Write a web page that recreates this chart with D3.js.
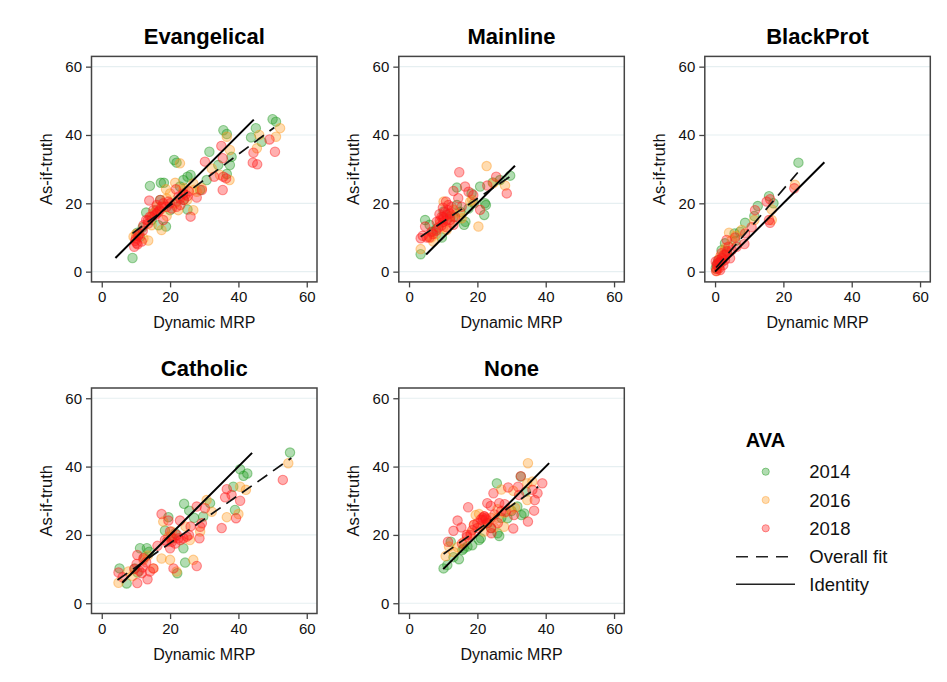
<!DOCTYPE html>
<html>
<head>
<meta charset="utf-8">
<script src="https://cdn.jsdelivr.net/npm/d3@7"></script>
<style>
  body { margin: 0; background: #fff; }
  svg { font-family: "Liberation Sans", Arial, sans-serif; }
</style>
</head>
<body>
<div id="chart"></div>
<script>
// Dynamic MRP vs as-if-truth, by religious group and AVA year
const years = ["2014", "2016", "2018"];
const yearColors = ["#1f9a1f", "#ff9a1f", "#ff1a1a"];
const ticks = [0, 20, 40, 60];

const evan2014 = [[9,4],[50,44.6],[51,43.9],[35.6,41.4],[36.6,40.3],[45.1,42],[43.7,39.3],[46.8,38],[31.5,35.1],[21.2,32.7],[21.9,31.9],[34.1,31.2],[38,33.6],[14.1,25.1],[17.3,26],[18.2,26],[23.9,26.8],[25.1,27.8],[26,28.3],[30.7,26.8],[36.6,28.6],[13,17.3],[16.6,13.6],[18.8,13.2],[25.1,18.2],[10.4,11.4],[28.8,23.9],[21.9,20.5],[17.1,21],[22.9,24.9],[20,18],[11.2,10.2],[14.6,15.1],[37.5,31.2],[24,21],[16,18],[12,13]];
const evan2016 = [[52.2,42],[51,39.5],[46.1,40],[36.6,39.5],[37.5,35.6],[45.4,36.1],[37.4,26.8],[32.2,30.2],[22.9,31.7],[21.5,26],[18.8,24.1],[26.8,25.8],[29.3,24.4],[19,21.4],[22.4,18],[26.8,18],[19,16.3],[17.5,12.2],[13.6,9.1],[12.2,9.7],[9.3,10.2],[23.9,23.9],[16.1,19],[34.6,28.3],[27.8,23.4],[21.5,20],[14.6,13.6],[20,22.9],[15,17],[18,19],[24,24.5],[27,24],[10,11],[25,21]];
const evan2018 = [[49.1,38.7],[50.7,35.1],[44.4,34.8],[44.2,31.9],[45.5,31.4],[35,36.8],[35.4,33.2],[30.2,32.2],[32.9,27.8],[35.6,27.8],[36.4,27.3],[35.4,23.9],[21.7,24.1],[13.9,20.8],[29.3,23.9],[27.8,21.7],[26,16.1],[23.9,22.9],[25.1,22.1],[22.9,21.4],[17.1,21],[16.1,19.5],[17.5,19],[15.1,18],[19,19],[20.5,18.5],[14.1,16.1],[13,15.1],[12.2,13.6],[13.6,14.1],[10,9.7],[10.7,10.4],[9.5,7.3],[11.7,8.8],[10.2,8.3],[21.9,19],[18,15.1],[20,20],[16.5,17.5],[24.5,22.5],[11,11],[12,12],[14.5,16],[15.5,16.5],[17,18],[18,20],[19.5,20.5],[22.5,22],[24,21],[23,19.5],[25.5,23.5],[16,17],[13.5,15],[9.8,9],[10.5,8]];
const evanFit = [[9,11.2],[50.5,42.2]];
const evanIdentity = [4, 44.5];

const main2014 = [[3.4,5.1],[4.7,15.1],[6,13.7],[14,24.6],[20.8,24.9],[24.5,26.1],[29.6,28.1],[22.2,20],[22.5,19.5],[22,16.6],[16.1,13.7],[16.5,14.6],[9.6,10],[18.3,22.9],[17.4,18.5],[10.1,17.6],[12,16.1],[7.1,11.7],[14,19.5],[26.6,26.8],[8,12.5],[13,16],[15,17.5],[19,20]];
const main2016 = [[22.7,30.9],[3.4,6.6],[20.3,13.2],[28.1,25.2],[24.7,25.9],[10.1,20.5],[7.1,8.8],[11,12.2],[15.4,15.6],[17.9,20.5],[13,18.1],[9.1,14.2],[5.7,10.3],[12,14.5],[8,11],[10,13],[12.5,16.5],[15,17],[6.5,10],[18.5,21]];
const main2018 = [[14.7,29.1],[25.5,27.8],[28.6,22.9],[22.9,25.2],[16.4,24.9],[13,23.6],[18.8,22.4],[20.8,18.1],[10.8,20.5],[9.9,18.7],[8.9,16.8],[11,16.6],[12,15.1],[8.1,14.6],[4.7,13.2],[3.4,9.8],[5.2,10],[6.6,11.7],[14.4,21.5],[10.1,15.6],[13,13.7],[8.6,12.9],[15.4,19],[17.4,23.4],[9.5,16],[11.5,18],[9,15],[10,16],[10.5,17.5],[11,15],[12,17],[11.5,19.5],[9.5,13.5],[8,12],[7,11],[13.5,16],[12.5,19],[6,10],[4,10.5],[10,14.5],[11,13]];
const mainFit = [[3.4,10.2],[29.8,28]];
const mainIdentity = [5, 31];

const black2014 = [[24.4,31.9],[15.8,22.1],[17.1,20],[12.5,19.2],[8.8,14.3],[11.5,16.3],[5.7,11.2],[1.9,6.3],[1,3.4],[2.9,8.3],[0.2,1],[7.3,11.7],[0.5,2],[1.5,2.5],[3.5,5.5],[6,9]];
const black2016 = [[23.4,25.4],[16.6,18.2],[4.1,11.4],[16.6,15.1],[11.5,15.1],[4.9,9.3],[0.5,0.2],[2.9,6.3],[7.8,12.2],[1.5,4.4],[1,1.5],[2,3.5],[3,7],[6,10.5]];
const black2018 = [[23.2,24.4],[15.1,20.5],[16.1,21.2],[11.7,18],[15.8,15.1],[16.1,14.3],[10.7,13],[8.8,11.2],[8.6,8.1],[5.9,10],[3.4,9.3],[3.9,7.3],[4.4,3.9],[1.9,5.4],[1,3.4],[0.5,1.9],[1.5,0.5],[0.3,0.2],[2.4,1.9],[6.3,7.3],[2.9,3.4],[4.9,6.3],[1,2.5],[2,4],[0.5,0.8],[0.8,2.5],[1.2,1],[2,2.8],[3,5],[1.5,3],[0.2,3],[2.5,4.8],[3.5,6]];
const blackFit = [[0.3,1.2],[24.2,29]];
const blackIdentity = [0, 32];

const cath2014 = [[55.1,44.1],[40.5,39.2],[42.6,38],[41.5,37.3],[38.5,34.1],[24.1,29.1],[25.6,27.1],[31.7,29.3],[39,27.3],[19.5,25.2],[18.5,21.3],[23.9,16.1],[24.4,11.9],[22.1,8.8],[11.2,16.1],[13.2,16.1],[13.9,15.1],[9.7,10.2],[5.2,10.2],[7.3,5.8],[29.7,25.4],[21.5,20.5],[20.5,19],[12.5,13.5],[27,25],[10.5,9]];
const cath2016 = [[54.6,41],[42.2,33.2],[40.5,34.1],[40,26.1],[36.6,25.2],[30.7,30.2],[32.2,26.8],[18,23.9],[20.5,21],[26.8,12.7],[20,12.7],[17.5,13.1],[4.9,6],[7.8,9.3],[15.1,10.2],[21.9,9.3],[28.8,21],[25.8,18.5],[12.2,12.7],[13.5,14],[24.5,22.5],[19.5,19.5],[9,8]];
const cath2018 = [[53,36.1],[36.6,33.4],[38,31.7],[40.5,30],[36.1,31],[39.3,24.9],[35.1,22],[27.8,28.3],[30.2,27.8],[29.3,23.4],[28.8,22.4],[28.6,19],[17.5,26.1],[19.5,24.2],[22.9,24.2],[24.9,19.5],[23.9,19],[21,19],[18.5,18.5],[20,16.1],[16.3,16.8],[10.4,14.1],[12.2,13.2],[10.2,11.5],[15.1,10.2],[21,10.2],[27.8,10.9],[13.4,7],[10.4,5.9],[4.9,9],[6.1,7.6],[11.7,8.8],[14.1,9.3],[20.5,18],[22,20],[19,18],[21.5,17.5],[23,18.5],[22.5,19],[25.5,20],[13,12],[12,10.5],[11,9.5],[9.5,10],[26,22.5],[20,21]];
const cathFit = [[4.6,6.8],[55.5,42.5]];
const cathIdentity = [6, 44];

const none2014 = [[10.1,10.2],[11.2,11.2],[14.6,12.9],[12.2,18],[25.7,35.1],[32.7,37.1],[34.2,32.7],[32.9,25.8],[33.7,26.3],[25.9,20.5],[26.4,19.7],[20.5,18.5],[17.1,16.6],[28.8,24.9],[22.9,23.4],[31.7,28.3],[15.6,15.6],[18.5,17],[21,19],[24,22],[27,25],[30,27],[13,13.5],[16,16]];
const none2016 = [[34.8,41],[10.7,13.8],[27,33.3],[30.5,32.9],[34.6,35.1],[36.1,35.6],[19.5,25.8],[20.5,26.1],[24.9,22.2],[27.8,22.4],[25.9,27.5],[29.8,27.3],[16.1,18],[14.2,16.4],[22,21],[34.6,30.2],[19,22.9],[11.7,16.6],[21,22.5],[23,24],[24,25],[18,20.5],[26,25],[28,26.5],[13,15],[31,28]];
const none2018 = [[39,35.1],[32.7,37.2],[36.8,30.2],[36.6,27.1],[34.8,23.9],[29,33.9],[31.9,34.1],[24.7,32.2],[17.3,28.1],[22.9,29.3],[26.4,29.3],[23.9,28.5],[14.2,24.2],[13,21.2],[15.3,22.2],[16.9,20],[30.5,21.9],[22,25.4],[21.5,24.4],[22.4,24.9],[20,23.4],[18.5,21.4],[24.1,20.5],[36.1,33.2],[37.6,32.2],[32.2,31.7],[11.4,18],[28.3,26.8],[30.7,25.8],[21.5,25],[22,25.5],[22.5,24.5],[21,24.5],[23,23.5],[20,22],[19,23],[18,20],[24,22],[26,23.5],[27,27],[28,29],[25,26],[17,19.5],[15.5,17.5]];
const noneFit = [[10.1,14.4],[37.8,34.1]];
const noneIdentity = [10, 41];

const panels = [
  { title: "Evangelical", col: 0, row: 0, series: [evan2014, evan2016, evan2018], fit: evanFit, identity: evanIdentity },
  { title: "Mainline", col: 1, row: 0, series: [main2014, main2016, main2018], fit: mainFit, identity: mainIdentity },
  { title: "BlackProt", col: 2, row: 0, series: [black2014, black2016, black2018], fit: blackFit, identity: blackIdentity },
  { title: "Catholic", col: 0, row: 1, series: [cath2014, cath2016, cath2018], fit: cathFit, identity: cathIdentity },
  { title: "None", col: 1, row: 1, series: [none2014, none2016, none2018], fit: noneFit, identity: noneIdentity }
];

const width = 947, height = 682;
const plotSize = 225.5;
const colLeft = [91.5, 398.8, 704.8];
const rowTop = [56.4, 388];

const svg = d3.select("#chart").append("svg")
  .attr("width", width)
  .attr("height", height);

panels.forEach(p => {
  const g = svg.append("g")
    .attr("transform", `translate(${colLeft[p.col]},${rowTop[p.row]})`);

  const x = d3.scaleLinear().domain([-3, 63]).range([0, plotSize]);
  const y = d3.scaleLinear().domain([-3, 63]).range([plotSize, 0]);

  // grid
  g.append("g").selectAll("line")
    .data(ticks)
    .join("line")
    .attr("x1", 0).attr("x2", plotSize)
    .attr("y1", d => y(d)).attr("y2", d => y(d))
    .attr("stroke", "#e6eff1")
    .attr("stroke-width", 1.2);

  // points, 2014 first so 2018 ends up on top
  p.series.forEach((pts, i) => {
    g.append("g").selectAll("circle")
      .data(pts)
      .join("circle")
      .attr("cx", d => x(d[0]))
      .attr("cy", d => y(d[1]))
      .attr("r", 4.7)
      .attr("fill", yearColors[i])
      .attr("fill-opacity", 0.35)
      .attr("stroke", yearColors[i])
      .attr("stroke-opacity", 0.45)
      .attr("stroke-width", 1.1);
  });

  const line = d3.line().x(d => x(d[0])).y(d => y(d[1]));

  g.append("path")
    .attr("d", line(p.fit))
    .attr("fill", "none")
    .attr("stroke", "#111")
    .attr("stroke-width", 1.7)
    .attr("stroke-dasharray", "12,7");

  g.append("path")
    .attr("d", line(p.identity.map(v => [v, v])))
    .attr("fill", "none")
    .attr("stroke", "#000")
    .attr("stroke-width", 2);

  // frame
  g.append("rect")
    .attr("width", plotSize)
    .attr("height", plotSize)
    .attr("fill", "none")
    .attr("stroke", "#444")
    .attr("stroke-width", 1.5);

  const xAxis = g.append("g")
    .attr("transform", `translate(0,${plotSize})`)
    .call(d3.axisBottom(x).tickValues(ticks).tickSize(5.5).tickPadding(4));
  const yAxis = g.append("g")
    .call(d3.axisLeft(y).tickValues(ticks).tickSize(5.5).tickPadding(4));

  [xAxis, yAxis].forEach(a => {
    a.select(".domain").remove();
    a.selectAll(".tick line").attr("stroke", "#444").attr("stroke-width", 1.3);
    a.selectAll(".tick text")
      .attr("fill", "#111")
      .style("font-size", "15px")
      .style("font-family", "'Liberation Sans', Arial, sans-serif");
  });

  g.append("text")
    .attr("x", x(30))
    .attr("y", -12.5)
    .attr("text-anchor", "middle")
    .style("font-size", "22px")
    .style("font-weight", "bold")
    .attr("fill", "#000")
    .text(p.title);

  g.append("text")
    .attr("x", x(30))
    .attr("y", plotSize + 46)
    .attr("text-anchor", "middle")
    .style("font-size", "16px")
    .attr("fill", "#111")
    .text("Dynamic MRP");

  g.append("text")
    .attr("transform", `translate(-39.5,${plotSize / 2}) rotate(-90)`)
    .attr("text-anchor", "middle")
    .style("font-size", "16.5px")
    .attr("fill", "#111")
    .text("As-if-truth");
});

// legend
const legend = svg.append("g").attr("transform", "translate(736,0)");

legend.append("text")
  .attr("x", 29.5)
  .attr("y", 447)
  .attr("text-anchor", "middle")
  .style("font-size", "20px")
  .style("font-weight", "bold")
  .text("AVA");

const legendRows = [471.7, 500, 528.3];
years.forEach((yr, i) => {
  legend.append("circle")
    .attr("cx", 29.7)
    .attr("cy", legendRows[i])
    .attr("r", 3.6)
    .attr("fill", yearColors[i])
    .attr("fill-opacity", 0.35)
    .attr("stroke", yearColors[i])
    .attr("stroke-opacity", 0.45);
  legend.append("text")
    .attr("x", 73.3)
    .attr("y", legendRows[i] + 6.5)
    .style("font-size", "18.5px")
    .attr("fill", "#111")
    .text(yr);
});

legend.append("line")
  .attr("x1", 0).attr("x2", 54)
  .attr("y1", 556.7).attr("y2", 556.7)
  .attr("stroke", "#222")
  .attr("stroke-width", 1.6)
  .attr("stroke-dasharray", "12,8");
legend.append("text")
  .attr("x", 73.3).attr("y", 563.2)
  .style("font-size", "18.5px")
  .attr("fill", "#111")
  .text("Overall fit");

legend.append("line")
  .attr("x1", 0).attr("x2", 59)
  .attr("y1", 584.3).attr("y2", 584.3)
  .attr("stroke", "#222")
  .attr("stroke-width", 1.6);
legend.append("text")
  .attr("x", 73.3).attr("y", 590.8)
  .style("font-size", "18.5px")
  .attr("fill", "#111")
  .text("Identity");
</script>
</body>
</html>
